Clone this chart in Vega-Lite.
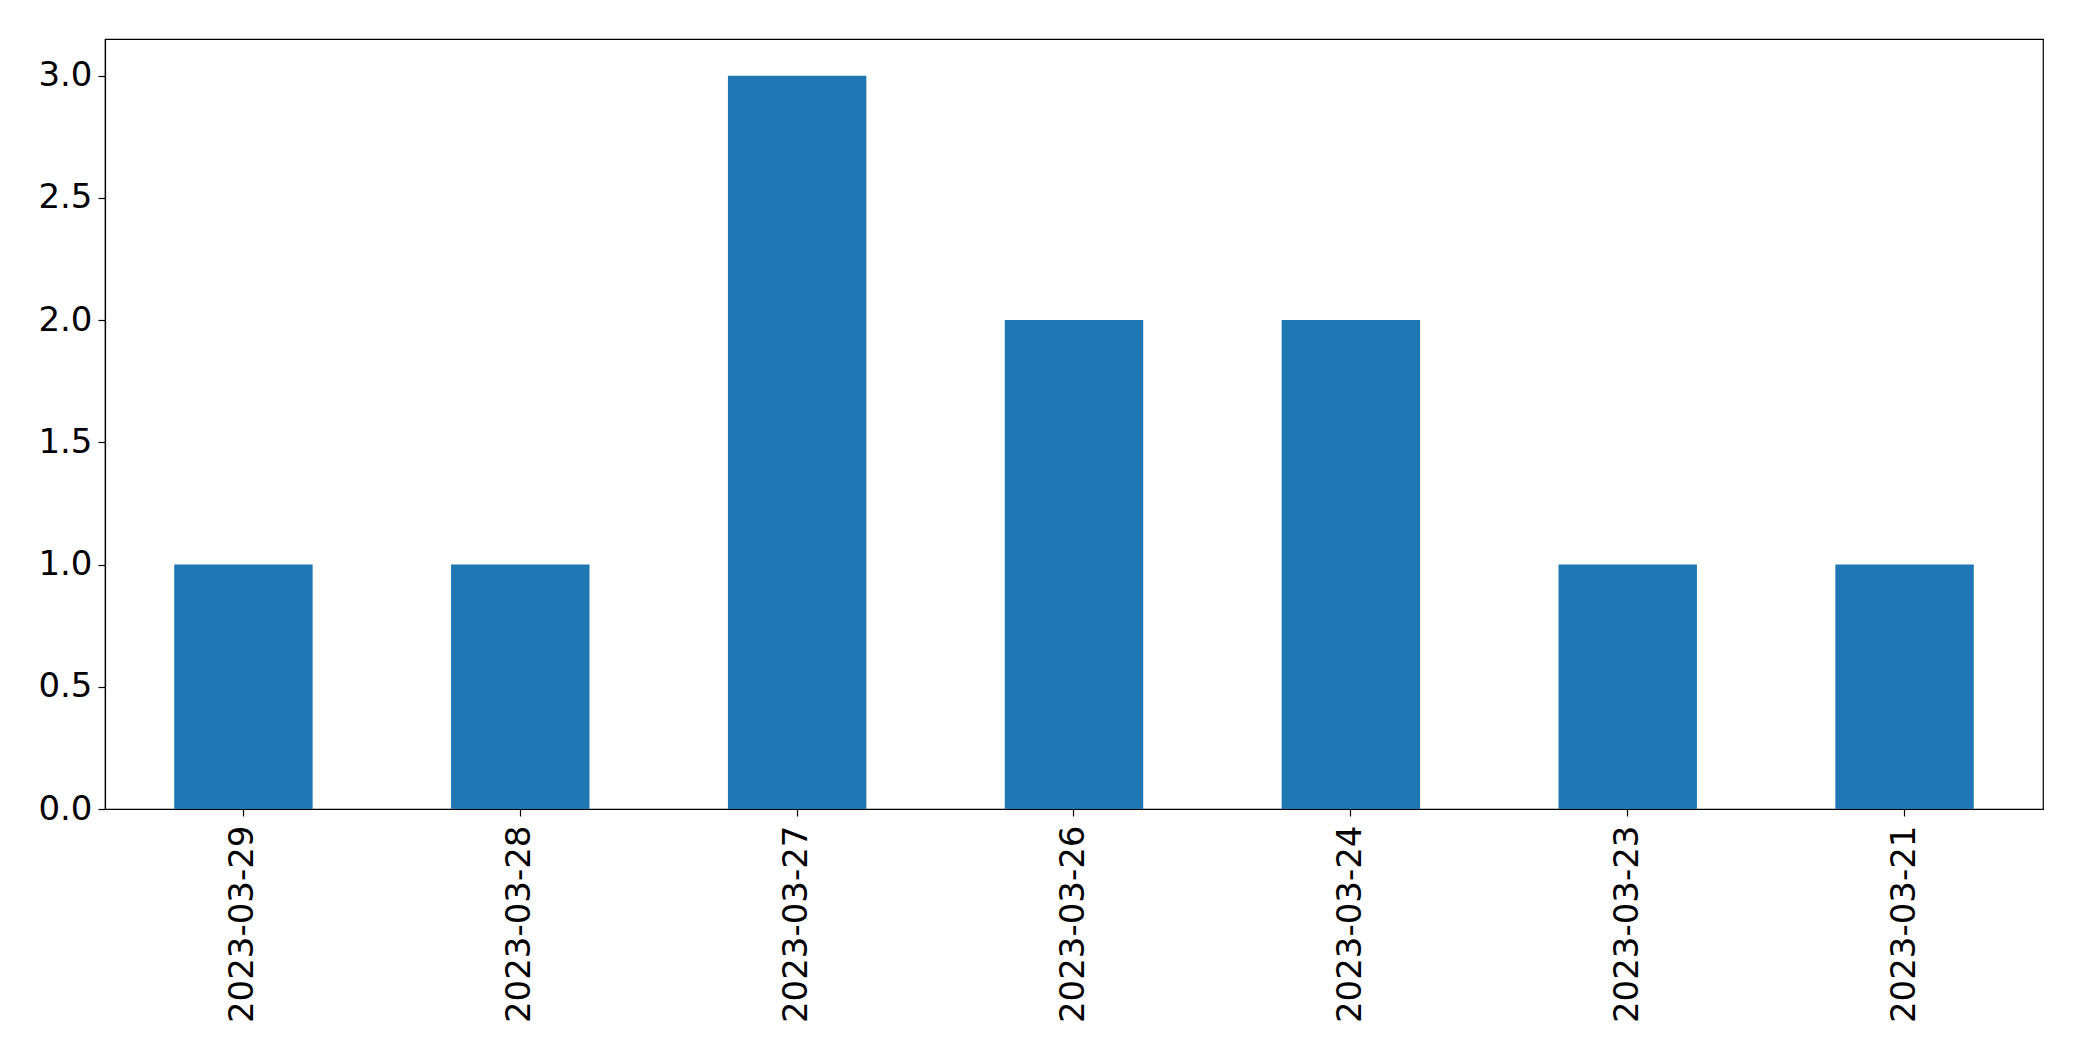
{
  "$schema": "https://vega.github.io/schema/vega-lite/v6.json",
  "width": 1938,
  "height": 770,
  "autosize": {"type": "none"},
  "padding": {"left": 105, "top": 39, "right": 39, "bottom": 252},
  "background": "white",
  "config": {
    "view": {"stroke": "black", "strokeWidth": 1.2},
    "font": "DejaVu Sans",
    "axis": {
      "labelFont": "DejaVu Sans",
      "labelFontSize": 34,
      "labelLimit": 0,
      "labelColor": "black",
      "tickColor": "black",
      "domainColor": "black",
      "grid": false,
      "tickSize": 7,
      "tickWidth": 1.2,
      "domainWidth": 1.2,
      "title": null
    }
  },
  "data": {
    "values": [
      {"date": "2023-03-29", "count": 1},
      {"date": "2023-03-28", "count": 1},
      {"date": "2023-03-27", "count": 3},
      {"date": "2023-03-26", "count": 2},
      {"date": "2023-03-24", "count": 2},
      {"date": "2023-03-23", "count": 1},
      {"date": "2023-03-21", "count": 1}
    ]
  },
  "mark": {"type": "bar", "color": "#1f77b4"},
  "encoding": {
    "x": {
      "field": "date",
      "type": "nominal",
      "sort": null,
      "scale": {"paddingInner": 0.5, "paddingOuter": 0.25},
      "axis": {"labelAngle": -90, "labelPadding": 9, "labelBaseline": "middle", "labelAlign": "right"}
    },
    "y": {
      "field": "count",
      "type": "quantitative",
      "scale": {"domain": [0, 3.15], "nice": false},
      "axis": {"values": [0, 0.5, 1, 1.5, 2, 2.5, 3], "format": ".1f", "labelPadding": 6}
    }
  }
}
